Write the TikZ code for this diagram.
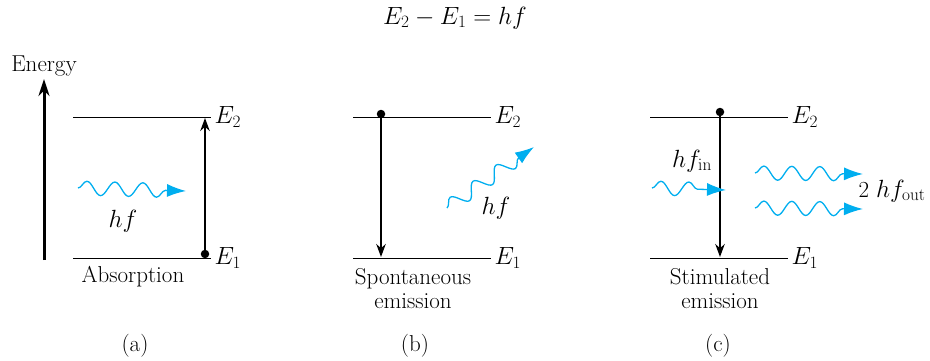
\documentclass[tikz,border=0pt]{standalone}
\usetikzlibrary{decorations.pathmorphing,arrows.meta}
\definecolor{photonblue}{RGB}{0,174,239}
\begin{document}
\begin{tikzpicture}[x=1pt,y=-1pt,>={Stealth[length=13pt,width=9.5pt]},
  font=\fontsize{23}{24}\selectfont,
  level/.style={line width=1pt},
  jump/.style={->,line width=1.7pt},
  dot/.style={circle,fill,inner sep=0pt,minimum size=8.5pt},
  elabel/.style={anchor=west,inner sep=3pt},
  photon/.style={photonblue,line width=1.3pt,-{Latex[length=19pt,width=13pt]},
    decorate,decoration={snake,segment length=28pt,amplitude=7pt,post length=17pt}}]
  \useasboundingbox (0,0) rectangle (930,360);
  \node (law) at (455,18) {$E_2 - E_1 = hf$};

  % energy axis
  \coordinate (ebot) at (44,260);
  \coordinate (etop) at (44,79);
  \draw[-{Stealth[length=17pt,width=11pt]},line width=3pt] (ebot) -- (etop);
  \node (energy) at (44,66) {Energy};

  % the two levels of each panel
  \foreach \x/\n in {73/a,353/b,650/c}{
    \draw[level] (\x,117) coordinate (up\n) -- ++(138,0) coordinate (upr\n)
      node[elabel] (etwo\n) {$E_2$};
    \draw[level] (\x,258) coordinate (lo\n) -- ++(138,0) coordinate (lor\n)
      node[elabel] (eone\n) {$E_1$};
  }

  % (a) absorption
  \node[dot] (dota) at (205,254) {};
  \coordinate (hita) at (205,118);
  \draw[jump] (dota.center) -- (hita);
  \coordinate (ina) at (78,188);
  \coordinate (outa) at (186,191);
  \draw[photon] (ina) -- (outa);
  \node (hfa) at (123,221) {$hf$};
  \node (capa) at (133,277) {Absorption};
  \node (taga) at (135,346) {(a)};

  % (b) spontaneous emission
  \node[dot] (dotb) at (381,114) {};
  \coordinate (hitb) at (381,257);
  \draw[jump] (dotb.center) -- (hitb);
  \coordinate (inb) at (447,208);
  \coordinate (outb) at (534,147);
  \draw[photon] (inb) -- (outb);
  \node (hfb) at (496,208) {$hf$};
  \node[align=center] (capb) at (413,289) {Spontaneous\\emission};
  \node (tagb) at (415,346) {(b)};

  % (c) stimulated emission
  \node[dot] (dotc) at (720,112) {};
  \coordinate (hitc) at (720,257);
  \draw[jump] (dotc.center) -- (hitc);
  \coordinate (inc) at (652,188);
  \coordinate (endc) at (726,190);
  \draw[photon] (inc) -- (endc);
  \node (hfin) at (692,161) {$hf_{\mathrm{in}}$};
  \coordinate (outc1) at (755,173);
  \coordinate (endc1) at (863,174);
  \coordinate (outc2) at (755,208);
  \coordinate (endc2) at (863,209);
  \draw[photon] (outc1) -- (endc1);
  \draw[photon] (outc2) -- (endc2);
  \node (hfout) at (892,191) {2 $hf_{\mathrm{out}}$};
  \node[align=center] (capc) at (720,289) {Stimulated\\emission};
  \node (tagc) at (718,346) {(c)};
\end{tikzpicture}
\end{document}
